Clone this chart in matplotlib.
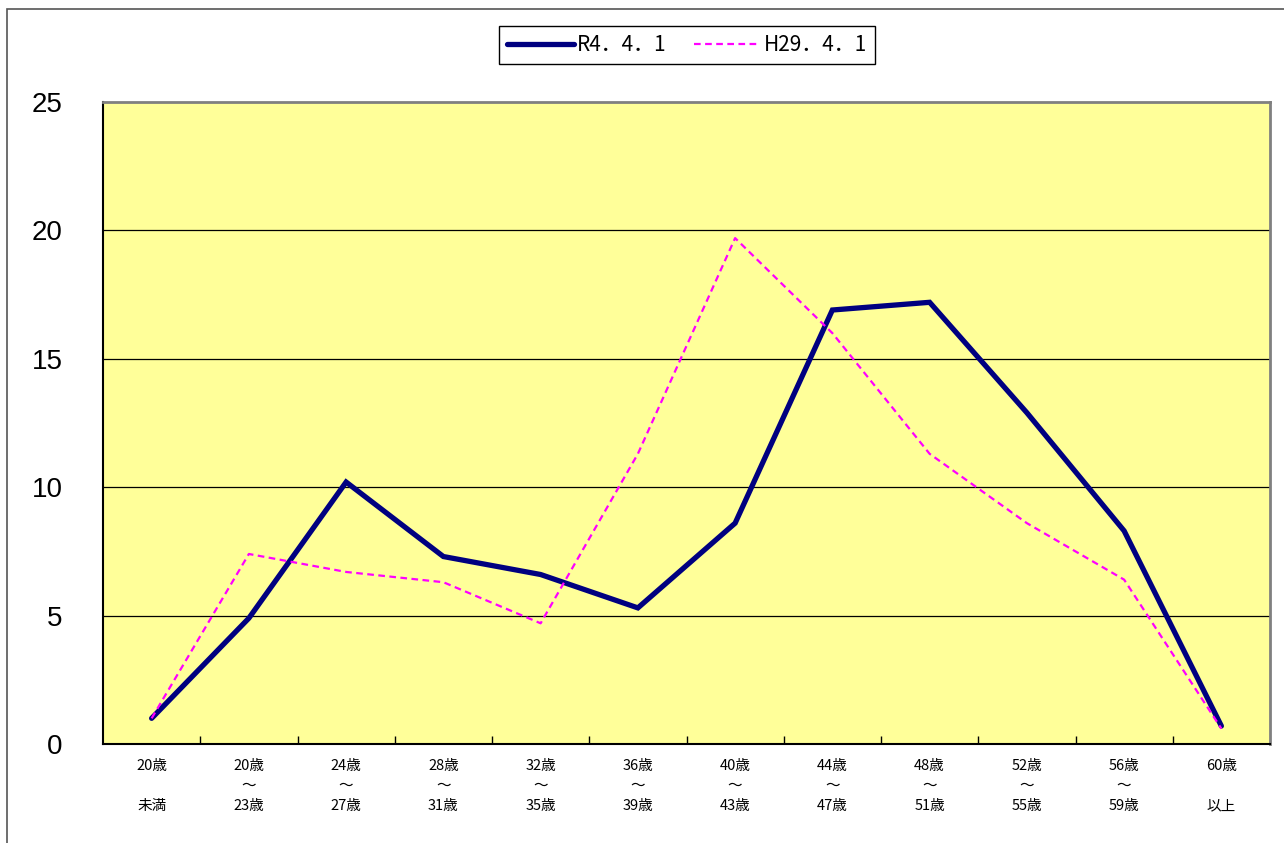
import numpy as np
import matplotlib
matplotlib.use("Agg")
import matplotlib.pyplot as plt
from matplotlib.patches import Rectangle

plt.rcParams['font.family'] = ['Liberation Sans', 'Noto Sans CJK JP', 'DejaVu Sans']

# age groups
categories = ["20歳\n\n未満", "20歳\n～\n23歳", "24歳\n～\n27歳", "28歳\n～\n31歳",
              "32歳\n～\n35歳", "36歳\n～\n39歳", "40歳\n～\n43歳", "44歳\n～\n47歳",
              "48歳\n～\n51歳", "52歳\n～\n55歳", "56歳\n～\n59歳", "60歳\n\n以上"]

# R4.4.1
r4 = [1.0, 4.9, 10.2, 7.3, 6.6, 5.3, 8.6, 16.9, 17.2, 12.9, 8.3, 0.7]
# H29.4.1
h29 = [1.0, 7.4, 6.7, 6.3, 4.7, 11.3, 19.7, 16.0, 11.3, 8.6, 6.4, 0.6]

labels = ["R4．4．1", "H29．4．1"]
yticks = [0, 5, 10, 15, 20, 25]

W, H = 1284, 843
fig = plt.figure(figsize=(W / 100, H / 100), dpi=100)

# outer chart border
fig.patches.append(Rectangle((7 / W, -0.05), 1.2, 1 - 9 / H + 0.05, transform=fig.transFigure,
                             fill=False, edgecolor='#555555', linewidth=1.2))

ax = fig.add_axes([103 / W, (H - 744) / H, (1270 - 103) / W, (744 - 102) / H])
ax.set_facecolor('#FFFF99')

x = np.arange(len(categories))
ax.plot(x, r4, color='#000080', linewidth=3.8, solid_capstyle='round',
        solid_joinstyle='miter', label=labels[0], zorder=3)
ax.plot(x, h29, color='#FF00FF', linewidth=1.6, linestyle=(0, (3, 2)),
        label=labels[1], zorder=4)

ax.set_xlim(-0.5, len(categories) - 0.5)
ax.set_ylim(0, 25)
ax.set_yticks(yticks)
ax.set_yticklabels([str(v) for v in yticks], fontsize=20)
ax.tick_params(axis='y', length=0, pad=29)
for v in yticks[1:-1]:
    ax.axhline(v, color='black', linewidth=0.9, zorder=1)

ax.set_xticks(x)
ax.set_xticklabels(categories, fontsize=10.5, family=['Noto Sans CJK JP'], linespacing=1.55)
ax.set_xticks(np.arange(0.5, len(categories) - 1, 1), minor=True)
ax.tick_params(axis='x', which='major', length=0, pad=11)
ax.tick_params(axis='x', which='minor', direction='in', length=6, width=1, color='black')

ax.spines['left'].set_linewidth(1.5)
ax.spines['bottom'].set_linewidth(1.5)
ax.spines['top'].set_color('#808080')
ax.spines['right'].set_color('#808080')
ax.spines['top'].set_linewidth(2)
ax.spines['right'].set_linewidth(2)

leg = fig.legend(loc='center', bbox_to_anchor=(687 / W, 1 - 45 / H), ncol=2,
                 prop={'family': ['Noto Sans CJK JP'], 'size': 15},
                 frameon=True, fancybox=False, edgecolor='black', framealpha=1,
                 handlelength=3.2, columnspacing=1.3, handletextpad=0.15,
                 borderpad=0.4)
leg.get_frame().set_linewidth(1)

fig.savefig("out.png", dpi=100)
